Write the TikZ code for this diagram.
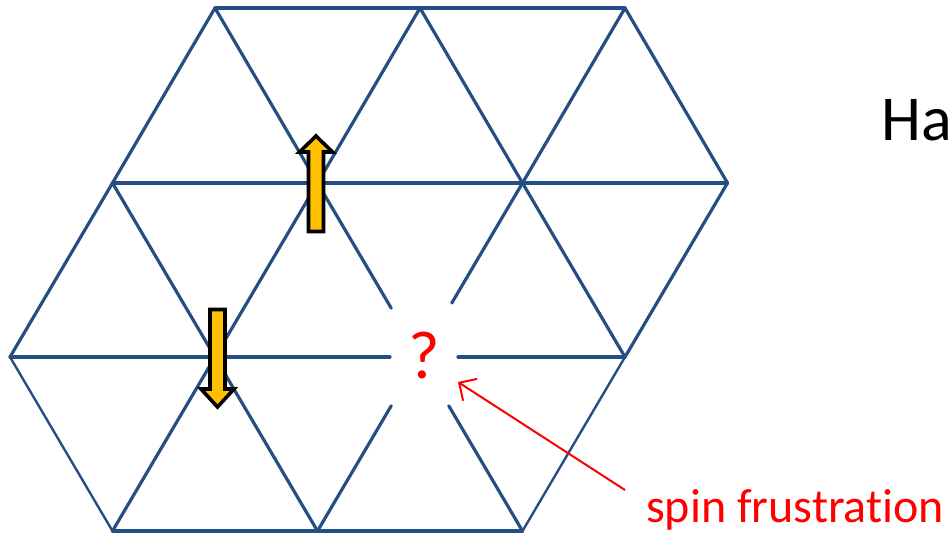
\documentclass[tikz,border=0pt]{standalone}
\usepackage{fontspec}
\setmainfont{Carlito}[Ligatures={NoCommon}]
\usetikzlibrary{calc,arrows.meta}
\definecolor{latblue}{RGB}{37,78,133}
\definecolor{spinyel}{RGB}{255,192,0}
\begin{document}
\begin{tikzpicture}[x=1pt,y=-1pt,
  lat/.style={draw=latblue,line width=3.2pt,line cap=round,line join=round},
  latthin/.style={lat,line width=2.4pt},
  spinarrow/.style={draw=black,fill=spinyel,line width=3.6pt,line join=miter},
  redarrow/.style={draw=red,line width=2pt,-{Straight Barb[length=13pt,width=26pt,line width=2pt]}}]
\useasboundingbox (0,0) rectangle (951,535);
% lattice vertices
\coordinate (a1) at (215,8);
\coordinate (a2) at (420,8);
\coordinate (a3) at (625,8);
\coordinate (b1) at (112.5,183);
\coordinate (b2) at (317.5,183);
\coordinate (b3) at (522.5,183);
\coordinate (b4) at (727.5,183);
\coordinate (c1) at (10,357);
\coordinate (c2) at (215,357);
\coordinate (c3) at (420,357);
\coordinate (c4) at (625,357);
\coordinate (d1) at (112.5,531);
\coordinate (d2) at (317.5,531);
\coordinate (d3) at (522.5,531);
% horizontal bonds
\draw[lat] (a1) -- (a3);
\draw[lat] (b1) -- (b4);
\draw[lat] (c1) -- ($(c2)!0.854!(c3)$);
\draw[lat] ($(c3)!0.185!(c4)$) -- (c4);
\draw[lat] (d1) -- (d3);
% "/" bonds
\draw[lat] (a1) -- (b1) -- (c1);
\draw[lat] (a2) -- (b2) -- (c2) -- (d1);
\draw[lat] (a3) -- (b3) -- ($(b3)!0.69!(c3)$);
\draw[lat] ($(d2)!0.72!(c3)$) -- (d2);
\draw[lat] (b4) -- (c4);
\draw[latthin] (c4) -- (d3);
% "\" bonds
\draw[latthin] (c1) -- (d1);
\draw[lat] (b1) -- (c2) -- (d2);
\draw[lat] (a1) -- (b2) -- ($(b2)!0.72!(c3)$);
\draw[lat] ($(d3)!0.72!(c3)$) -- (d3);
\draw[lat] (a2) -- (b3) -- (c4);
\draw[lat] (a3) -- (b4);
% spins
\draw[spinarrow] (308.5,231.5) -- (308.5,152) -- (299.5,152) -- (316,136) -- (332.5,152) -- (323.5,152) -- (323.5,231.5) -- cycle;
\draw[spinarrow] (210,309.5) -- (210,389) -- (201,389) -- (217.5,407) -- (234,389) -- (225,389) -- (225,309.5) -- cycle;
% labels
\node[anchor=base,inner sep=0,text=red,font=\fontsize{68}{72}\selectfont] (q) at (424,378) {?};
\node[anchor=base west,inner sep=0,font=\fontsize{64}{70}\selectfont] (ha) at (881,140) {Ha};
\node[anchor=base west,inner sep=0,text=red,font=\fontsize{48}{52}\selectfont] (sf) at (646,522) {spin frustration};
\coordinate (rtail) at (625,490);
\coordinate (rtip) at (458,382);
\draw[redarrow] (rtail) -- (rtip);
\end{tikzpicture}
\end{document}
